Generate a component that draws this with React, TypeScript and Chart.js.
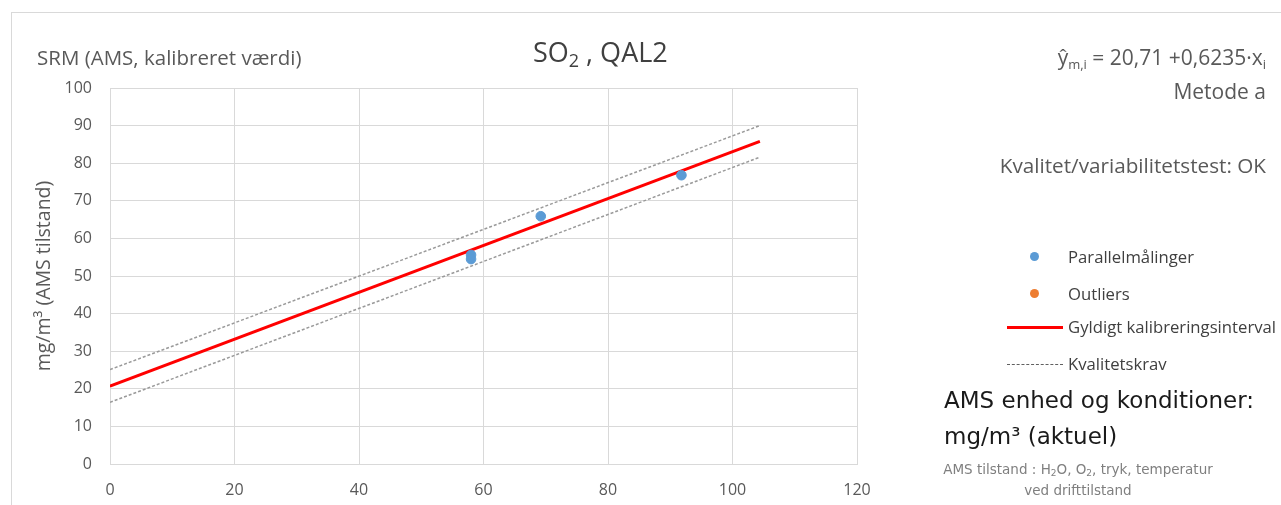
import React, { useEffect, useRef } from "react";
import { Chart, registerables } from "chart.js";

Chart.register(...registerables);

// ---- data ----
const parallelX = [58, 58, 69.2, 91.8];
const parallelY = [55.6, 54.5, 65.9, 76.8];
const outlierX: number[] = [];
const outlierY: number[] = [];
const lineX = [0, 104.4];
const calibY = [20.71, 85.8];
const upperY = [25.1, 90.0];
const lowerY = [16.4, 81.6];
const xMin = 0, xMax = 120, xStep = 20;
const yMin = 0, yMax = 100, yStep = 10;

const W = 1281, H = 505;
const FONT = "'Open Sans', sans-serif";
const GRAY = "#595959";

const pts = (xs: number[], ys: number[]) => xs.map((x, i) => ({ x, y: ys[i] }));

export default function App() {
  const ref = useRef<HTMLCanvasElement>(null);
  useEffect(() => {
    const chart = new Chart(ref.current!, {
      type: "scatter",
      data: {
        datasets: [
          { label: "Parallelmålinger", data: pts(parallelX, parallelY), backgroundColor: "#5B9BD5", borderColor: "#5B9BD5", pointRadius: 4.8, order: 0 },
          { label: "Outliers", data: pts(outlierX, outlierY), backgroundColor: "#ED7D31", borderColor: "#ED7D31", pointRadius: 4.8, order: 0 },
          { label: "Gyldigt kalibreringsinterval", data: pts(lineX, calibY), showLine: true, borderColor: "#FF0000", borderWidth: 3, pointRadius: 0, order: 1 },
          { label: "Kvalitetskrav", data: pts(lineX, upperY), showLine: true, borderColor: "#9a9a9a", borderWidth: 1.5, borderDash: [3, 2], pointRadius: 0, order: 2 },
          { label: "Kvalitetskrav2", data: pts(lineX, lowerY), showLine: true, borderColor: "#9a9a9a", borderWidth: 1.5, borderDash: [3, 2], pointRadius: 0, order: 2 },
        ] as any,
      },
      options: {
        responsive: false,
        animation: false,
        devicePixelRatio: 1,
        layout: { padding: { left: 33, right: W - 857, top: 88, bottom: 0 } },
        plugins: { legend: { display: false }, tooltip: { enabled: false } },
        scales: {
          x: {
            type: "linear", min: xMin, max: xMax,
            ticks: { stepSize: xStep, color: GRAY, font: { family: FONT, size: 16 }, padding: 17, maxRotation: 0 },
            grid: { color: "#d9d9d9", drawTicks: false },
            border: { color: "#d9d9d9" },
            afterFit: (s: any) => { s.height = H - 464; },
          },
          y: {
            type: "linear", min: yMin, max: yMax,
            ticks: { stepSize: yStep, color: GRAY, font: { family: FONT, size: 16 }, padding: 18 },
            grid: { color: "#d9d9d9", drawTicks: false },
            border: { color: "#d9d9d9" },
            title: { display: true, text: "mg/m³ (AMS tilstand)", color: GRAY, font: { family: FONT, size: 19.5 }, padding: 0 },
            afterFit: (s: any) => { s.width = 110 - 33; },
          },
        },
      } as any,
    });
    return () => chart.destroy();
  }, []);

  const abs = (o: React.CSSProperties): React.CSSProperties => ({ position: "absolute", whiteSpace: "nowrap", ...o });
  const sub = (fs: number, va: number): React.CSSProperties => ({ fontSize: fs, verticalAlign: `-${va}px`, lineHeight: 0 });

  return (
    <div style={{ position: "fixed", left: 0, top: 0, width: W, height: H, background: "#fff", overflow: "hidden", fontFamily: FONT }}>
      <div style={abs({ left: 11, top: 12, width: W, height: H, border: "1px solid #d9d9d9" })} />
      <canvas ref={ref} width={W} height={H} style={{ position: "absolute", left: 0, top: 0, width: W, height: H }} />
      <div style={abs({ left: 37, top: 43, fontSize: 20.5, lineHeight: "28px", color: GRAY })}>SRM (AMS, kalibreret værdi)</div>
      <div style={abs({ left: 533, top: 35, fontSize: 27, lineHeight: "34px", color: "#404040" })}>
        SO<sub style={sub(18, 5)}>2</sub> , QAL2
      </div>
      <div style={abs({ right: W - 1266, top: 43, fontSize: 21, lineHeight: "28px", color: GRAY })}>
        ŷ<sub style={sub(13, 4)}>m,i</sub> = 20,71 +0,6235·x<sub style={sub(13, 4)}>i</sub>
      </div>
      <div style={abs({ right: W - 1266, top: 77, fontSize: 21, lineHeight: "28px", color: GRAY })}>Metode a</div>
      <div style={abs({ right: W - 1266, top: 151, fontSize: 20.7, lineHeight: "28px", color: GRAY })}>Kvalitet/variabilitetstest: OK</div>

      {/* legend */}
      <div style={abs({ left: 1030, top: 252, width: 9, height: 9, borderRadius: "50%", background: "#5B9BD5" })} />
      <div style={abs({ left: 1068, top: 245, fontSize: 16.7, lineHeight: "24px", color: "#404040" })}>Parallelmålinger</div>
      <div style={abs({ left: 1030, top: 289, width: 9, height: 9, borderRadius: "50%", background: "#ED7D31" })} />
      <div style={abs({ left: 1068, top: 282, fontSize: 16.7, lineHeight: "24px", color: "#404040" })}>Outliers</div>
      <div style={abs({ left: 1007, top: 326, width: 56, height: 0, borderTop: "3px solid #FF0000" })} />
      <div style={abs({ left: 1068, top: 315, fontSize: 16.7, lineHeight: "24px", color: "#404040" })}>Gyldigt kalibreringsinterval</div>
      <div style={abs({ left: 1007, top: 364, width: 56, height: 0, borderTop: "1px dashed #606060" })} />
      <div style={abs({ left: 1068, top: 352, fontSize: 16.7, lineHeight: "24px", color: "#404040" })}>Kvalitetskrav</div>

      <div style={abs({ left: 944, top: 384, fontSize: 23, lineHeight: "32px", color: "#1a1a1a", fontFamily: "'DejaVu Sans', sans-serif" })}>AMS enhed og konditioner:</div>
      <div style={abs({ left: 944, top: 420, fontSize: 23, lineHeight: "32px", color: "#1a1a1a", fontFamily: "'DejaVu Sans', sans-serif" })}>mg/m³ (aktuel)</div>
      <div style={abs({ left: 928, top: 459, width: 300, textAlign: "center", fontSize: 13.5, lineHeight: "21px", color: "#7f7f7f", fontFamily: "'DejaVu Sans', sans-serif" })}>
        AMS tilstand : H<sub style={sub(9, 2)}>2</sub>O, O<sub style={sub(9, 2)}>2</sub>, tryk, temperatur<br />ved drifttilstand
      </div>
    </div>
  );
}
